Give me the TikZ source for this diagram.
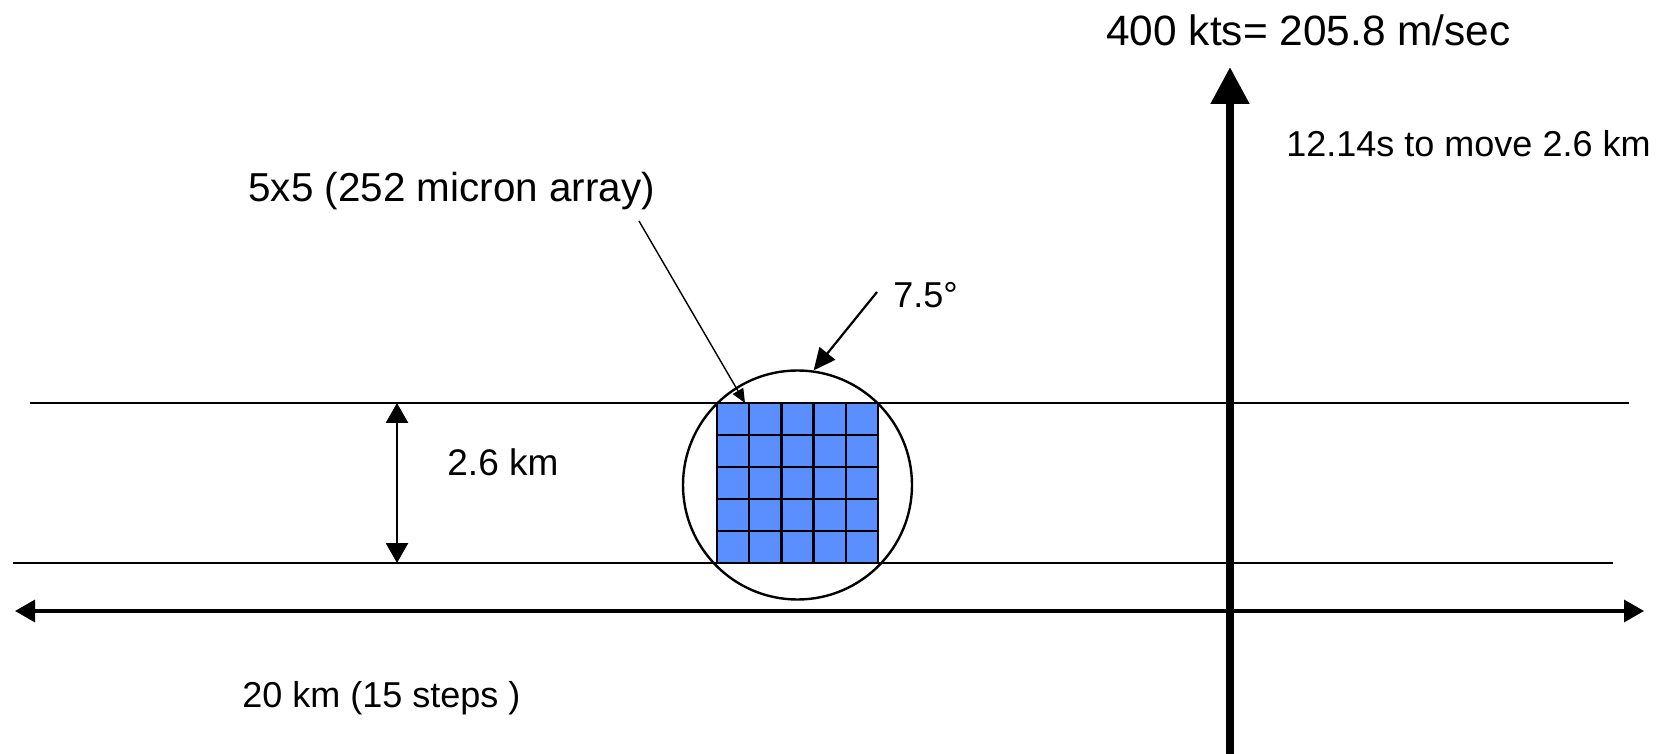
\documentclass[tikz,border=0pt]{standalone}
\usepackage{fontspec}
\setmainfont{Liberation Sans}
\usetikzlibrary{arrows.meta,positioning,calc}
\definecolor{ArrayBlue}{HTML}{5B8EFF}

\begin{document}
\begin{tikzpicture}[
  x=0.5pt,y=-0.5pt,
  lbl/.style={inner sep=0pt,anchor=west,font=\fontsize{18}{20}\selectfont},
  rule/.style={draw=black,line width=1.3pt},
  dim/.style={{Triangle[length=10pt,width=11pt]}-{Triangle[length=10pt,width=11pt]},line width=1.4pt},
  ptr/.style={-{Triangle[length=11pt,width=10pt]},line width=1.1pt},
  cell/.style={draw=black,line width=1.2pt}
]
\useasboundingbox (0,0) rectangle (1667,754);
% swath edges
\coordinate (tl) at (30,403);
\coordinate (tr) at (1629,403);
\coordinate (bl) at (13,563);
\coordinate (br) at (1613,563);
\draw[rule] (tl) -- (tr);
\draw[rule] (bl) -- (br);
% field of view and 5x5 array
\node[circle,draw,line width=1.2pt,minimum size=114.5pt,inner sep=0pt] (fov) at (797.5,485) {};
\node[fill=ArrayBlue,minimum width=80.5pt,minimum height=80pt,inner sep=0pt,anchor=north west] (arr) at (717,403) {};
\foreach \i in {0,...,5}{
  \draw[cell] ($(arr.north west)+(\i*32.2,0)$) -- ($(arr.south west)+(\i*32.2,0)$);
  \draw[cell] ($(arr.north west)+(0,\i*32)$) -- ($(arr.north east)+(0,\i*32)$);
}
\node[lbl,font=\fontsize{20.2}{22}\selectfont] (arrlbl) at (248,191) {5x5 (252 micron array)};
\coordinate (ptrtail) at (639,221);
\coordinate (ptrtip) at ($(arr.north west)+(28,0)$);
\draw[-{Triangle[length=7pt,width=6pt]},line width=0.7pt] (ptrtail) -- (ptrtip);
\node[lbl] (deg) at (893,295) {7.5°};
\draw[ptr] ([xshift=-8pt,yshift=1.5pt]deg.west) -- (fov.82);
% swath width
\coordinate (dimtop) at (397,403);
\draw[dim] (dimtop) -- (dimtop |- bl);
\node[lbl,font=\fontsize{18.5}{20}\selectfont] (swath) at (447,462) {2.6 km};
% along-track steps
\coordinate (stepL) at (15,611);
\coordinate (stepR) at (1644,611);
\draw[dim,line width=1.6pt] (stepL) -- (stepR);
\node[lbl] (steps) at (242,698) {20 km (15 steps )};
% flight direction
\coordinate (fbot) at (1230,754);
\coordinate (ftop) at (1230,67);
\draw[-{Triangle[length=18.5pt,width=18.5pt]},line width=4pt] (fbot) -- (ftop);
\node[lbl,font=\fontsize{21.2}{23}\selectfont] (speed) at (1106,30) {400 kts= 205.8 m/sec};
\node[lbl] (time) at (1286,144) {12.14s to move 2.6 km};
\end{tikzpicture}
\end{document}
